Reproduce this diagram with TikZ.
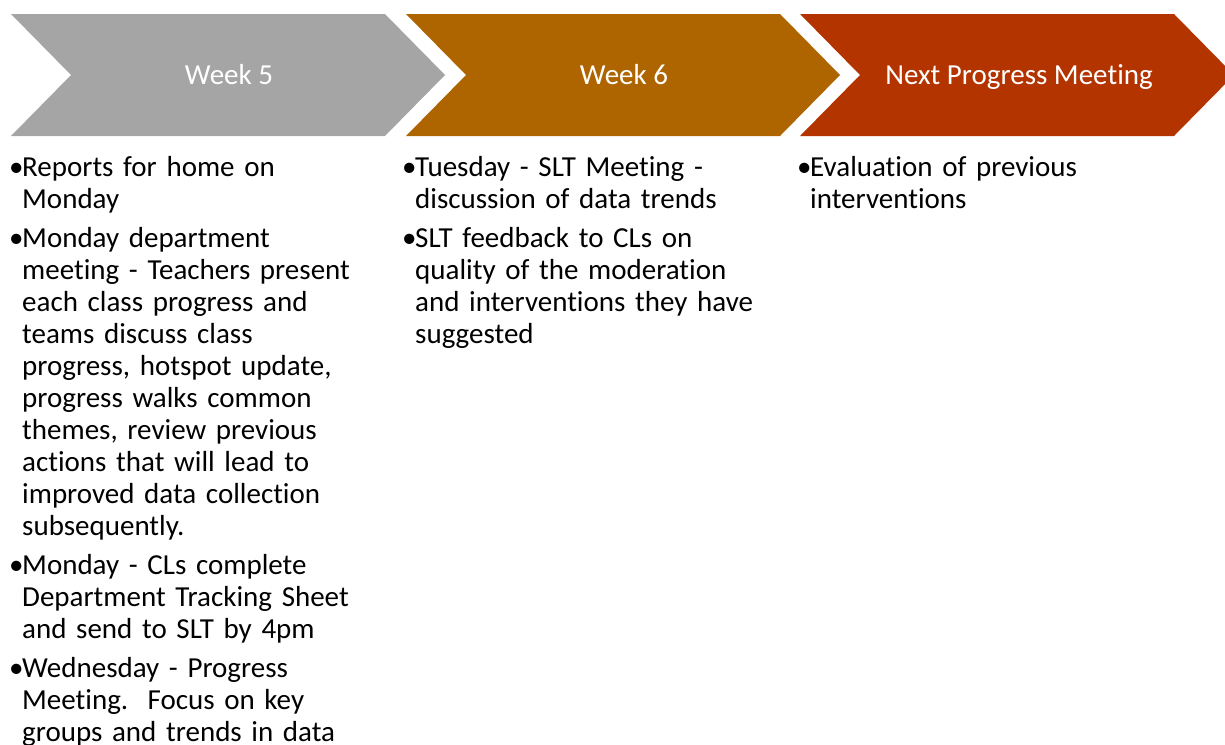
\documentclass[tikz,border=0pt]{standalone}
\usepackage{fontspec}
\setmainfont{Carlito}[Ligatures=NoCommon]
\usepackage{xcolor}
\usetikzlibrary{positioning}
\definecolor{wkgrey}{RGB}{165,165,165}
\definecolor{wkbrown}{RGB}{174,101,0}
\definecolor{wkred}{RGB}{180,52,0}
\newcommand{\bitem}[1]{\noindent\llap{\makebox[13pt][l]{•}}#1\par}

\begin{document}
\begin{tikzpicture}[x=1pt, y=-1pt]
    \tikzstyle{head}=[text=white, anchor=base, font=\fontsize{29}{32}\selectfont]
    \tikzstyle{body}=[anchor=north west, inner sep=0pt, align=left, text width=380pt,
      font=\fontsize{29}{32}\selectfont\setlength{\parskip}{7pt}]
    \useasboundingbox (0,0) rectangle (1225,744);
    % chevrons
    \fill[wkgrey] (11,14) -- ++(374,0) -- ++(60,61) -- ++(-60,61) -- ++(-374,0) -- ++(60,-61) -- cycle;
    \fill[wkbrown] (406,14) -- ++(374,0) -- ++(60,61) -- ++(-60,61) -- ++(-374,0) -- ++(60,-61) -- cycle;
    \fill[wkred] (800,14) -- ++(374,0) -- ++(60,61) -- ++(-60,61) -- ++(-374,0) -- ++(60,-61) -- cycle;
    \node[head] (h5) at (229,84) {Week 5};
    \node[head] (h6) at (624,84) {Week 6};
    \node[head] (hn) at (1019,84) {Next Progress Meeting};
    % activities
    \node[body] (c5) at (22,156) {%
      \bitem{Reports for home on\\Monday}
      \bitem{Monday department\\meeting - Teachers present\\each class progress and\\teams discuss class\\progress, hotspot update,\\progress walks common\\themes, review previous\\actions that will lead to\\improved data collection\\subsequently.}
      \bitem{Monday - CLs complete\\Department Tracking Sheet\\and send to SLT by 4pm}
      \bitem{Wednesday - Progress\\Meeting.\ \ Focus on key\\groups and trends in data}};
    \node[body] (c6) at (415,156) {%
      \bitem{Tuesday - SLT Meeting -\\discussion of data trends}
      \bitem{SLT feedback to CLs on\\quality of the moderation\\and interventions they have\\suggested}};
    \node[body] (cn) at (810,156) {%
      \bitem{Evaluation of previous\\interventions}};
\end{tikzpicture}
\end{document}
